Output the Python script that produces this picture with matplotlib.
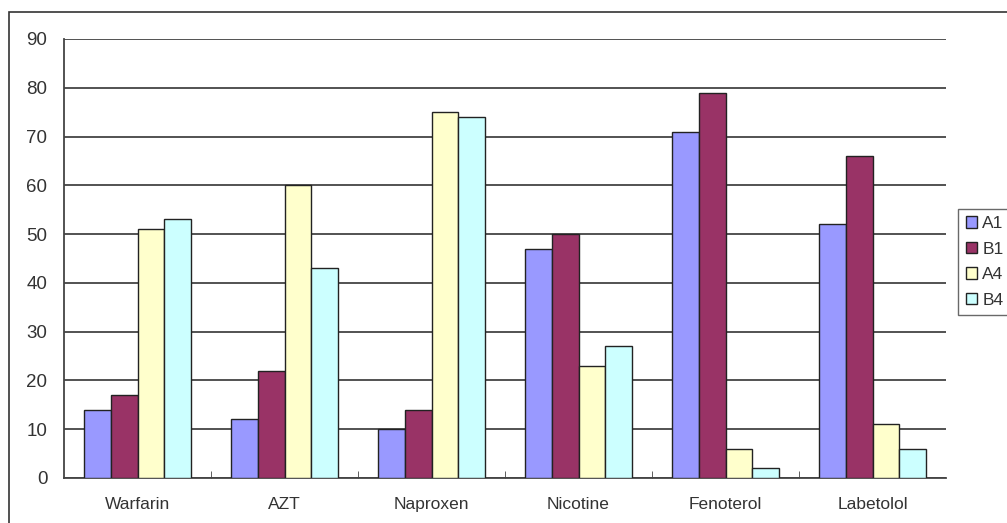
import matplotlib
matplotlib.use("Agg")
from matplotlib import pyplot as plt
from matplotlib.patches import Rectangle
import numpy as np

plt.rcParams['font.family'] = ['Liberation Sans', 'DejaVu Sans']

drugs = ["Warfarin", "AZT", "Naproxen", "Nicotine", "Fenoterol", "Labetolol"]
series = ["A1", "B1", "A4", "B4"]
a1 = [14, 12, 10, 47, 71, 52]
b1 = [17, 22, 14, 50, 79, 66]
a4 = [51, 60, 75, 23, 6, 11]
b4 = [53, 43, 74, 27, 2, 6]
colors = ["#9999FF", "#993366", "#FFFFCC", "#CCFFFF"]

W, H = 1007, 523
fig = plt.figure(figsize=(W / 100, H / 100), dpi=100)
ax = fig.add_axes([64 / W, 45 / H, (946 - 64) / W, (478 - 39) / H])

# excel-like layout: 4 bars per group, gap width 150%
bw = 1.0 / 5.5
x = np.arange(len(drugs))
for i, (vals, c, name) in enumerate(zip([a1, b1, a4, b4], colors, series)):
    ax.bar(x - 2 * bw + (i + 0.5) * bw, vals, width=bw, color=c,
           edgecolor="#222222", linewidth=1.0, label=name, zorder=3)

ax.set_xlim(-0.5, len(drugs) - 0.5)
ax.set_ylim(0, 90)
ax.set_yticks(range(0, 91, 10))
ax.yaxis.grid(True, color="#444444", linewidth=1.3, zorder=0)
ax.set_axisbelow(True)
ax.set_xticks(x)
ax.set_xticklabels(drugs, fontsize=12.5, color="#333333")
ax.tick_params(axis="x", length=0, pad=14)
ax.tick_params(axis="y", length=0, pad=12, labelsize=13.5, labelcolor="#333333")
# small inward tick marks between categories
ax.set_xticks(np.arange(0.5, len(drugs) - 0.5), minor=True)
ax.tick_params(axis="x", which="minor", direction="in", length=5, color="#444444")

for s in ["top", "right"]:
    ax.spines[s].set_visible(False)
for s in ["left", "bottom"]:
    ax.spines[s].set_color("#444444")
    ax.spines[s].set_linewidth(1.3)

leg = ax.legend(loc="center left", bbox_to_anchor=(958 / W, 1 - 262 / H),
                bbox_transform=fig.transFigure, fontsize=12.5,
                frameon=True, fancybox=False, edgecolor="#444444",
                handlelength=0.65, handleheight=0.65, handletextpad=0.3,
                borderpad=0.45, labelspacing=0.6, borderaxespad=0)
leg.get_frame().set_linewidth(1.0)
for t in leg.get_texts():
    t.set_color("#333333")

# chart border
fig.patches.append(Rectangle((9 / W, -0.1), 1.2, 1 - 12 / H + 0.1,
                             transform=fig.transFigure, fill=False,
                             edgecolor="#333333", linewidth=1.2))

fig.savefig("out.png", dpi=100)
